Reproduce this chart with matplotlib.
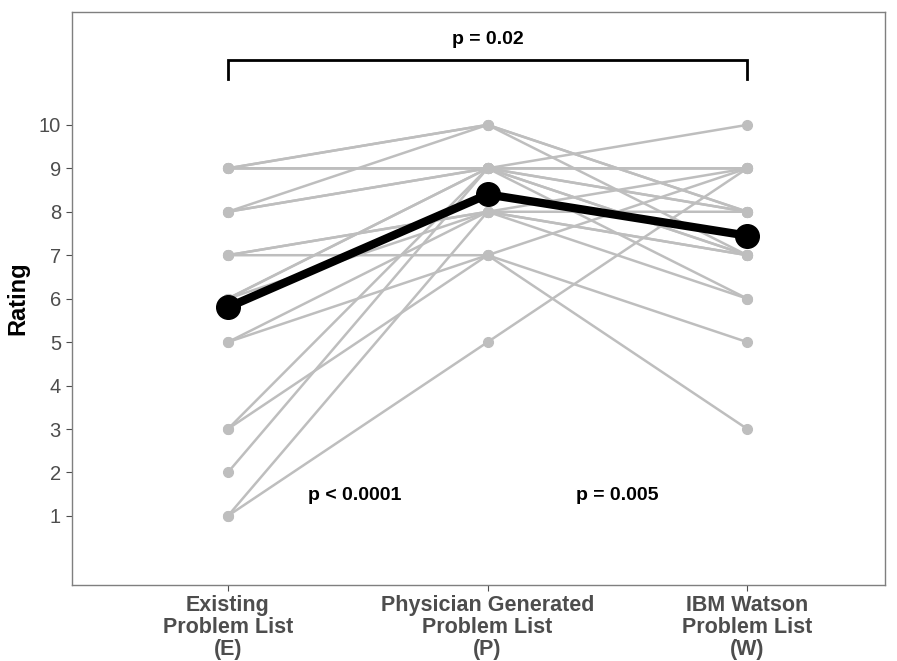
import matplotlib
matplotlib.use("Agg")
import matplotlib.pyplot as plt

# ---- data ----
categories = ["Existing\nProblem List\n(E)",
              "Physician Generated\nProblem List\n(P)",
              "IBM Watson\nProblem List\n(W)"]
rating_E = [9, 8, 9, 8, 6, 3, 2, 1, 1, 7, 7, 5, 5, 3, 6, 6, 7, 9, 8, 9]
rating_P = [10, 10, 9, 9, 9, 9, 9, 8, 5, 7, 8, 8, 7, 7, 8, 9, 8, 9, 9, 10]
rating_W = [8, 7, 9, 10, 8, 7, 6, 8, 9, 9, 6, 9, 5, 3, 7, 8, 7, 7, 9, 8]
mean_rating = [5.8, 8.4, 7.45]
y_ticks = [1, 2, 3, 4, 5, 6, 7, 8, 9, 10]
p_labels = ["p < 0.0001", "p = 0.005", "p = 0.02"]

fam = ["Liberation Sans", "DejaVu Sans"]
plt.rcParams["font.family"] = fam

fig = plt.figure(figsize=(8.97, 6.61), dpi=100)
ax = fig.add_axes([0.0803, 0.115, 0.9063, 0.867])

xpos = [1, 2, 3]
gray = "#BEBEBE"
for e, p, w in zip(rating_E, rating_P, rating_W):
    ax.plot(xpos, [e, p, w], color=gray, lw=1.8, marker="o", ms=7,
            mec=gray, mfc=gray, zorder=2, solid_capstyle="round")

ax.plot(xpos, mean_rating, color="black", lw=6, marker="o", ms=17,
        zorder=5, solid_capstyle="round")

# significance bracket
ax.plot([1, 1, 3, 3], [11.05, 11.5, 11.5, 11.05], color="black", lw=2.0,
        zorder=6, solid_joinstyle="miter")
ax.text(2, 11.97, p_labels[2], ha="center", va="center", fontsize=14,
        fontweight="bold", color="black")
ax.text(1.49, 1.48, p_labels[0], ha="center", va="center", fontsize=14,
        fontweight="bold", color="black")
ax.text(2.5, 1.48, p_labels[1], ha="center", va="center", fontsize=14,
        fontweight="bold", color="black")

ax.set_xlim(0.4, 3.53)
ax.set_ylim(-0.59, 12.6)
ax.set_yticks(y_ticks)
ax.set_yticklabels([str(t) for t in y_ticks], fontsize=14.5, color="#4D4D4D")
ax.set_xticks(xpos)
ax.set_xticklabels(categories, fontsize=15.5, fontweight="bold",
                   color="#4D4D4D", linespacing=1.08)
ax.tick_params(axis="both", colors="#4D4D4D", length=4, width=0.8)
ax.tick_params(axis="y", labelcolor="#4D4D4D", pad=4)
ax.tick_params(axis="x", labelcolor="#4D4D4D", pad=3)
ax.set_ylabel("Rating", fontsize=17, fontweight="bold", color="black",
              labelpad=7)

for s in ax.spines.values():
    s.set_color("#7F7F7F")
    s.set_linewidth(1.0)

fig.savefig("out.png", dpi=100)
